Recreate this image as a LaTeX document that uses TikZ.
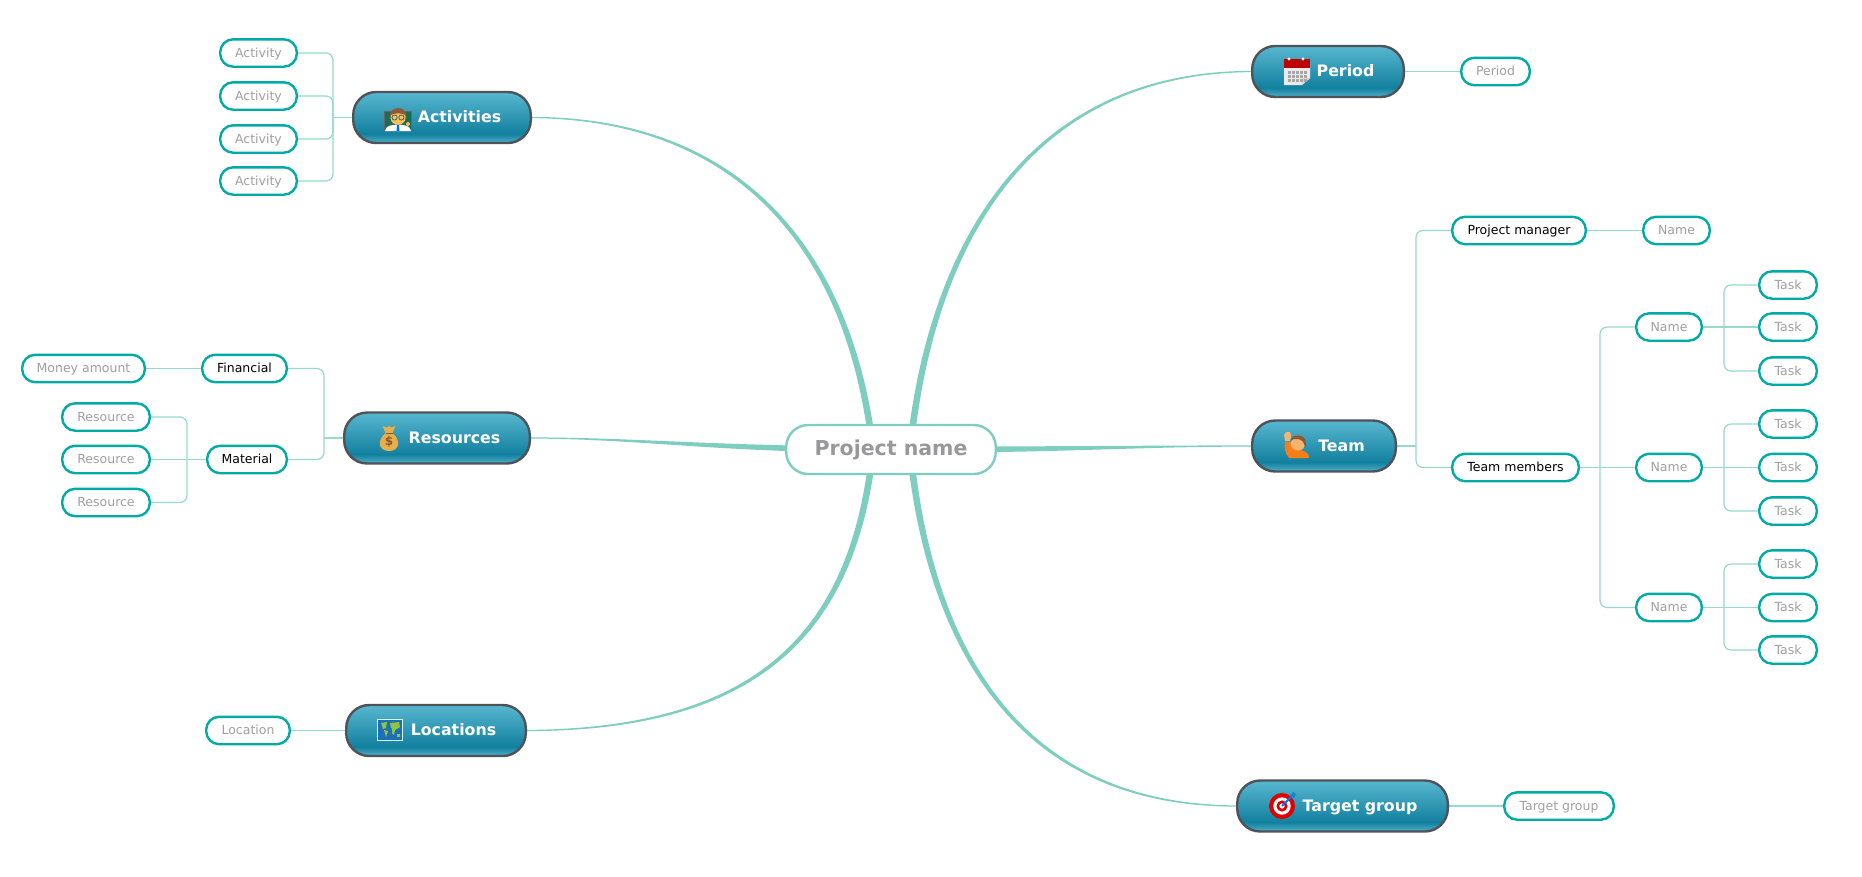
\documentclass[tikz,border=0pt]{standalone}
\usepackage{fontspec}
\setmainfont{DejaVu Sans}
\usetikzlibrary{backgrounds}
\definecolor{leafline}{HTML}{00ABA6}
\definecolor{branchc}{HTML}{7ECEC0}
\definecolor{thinc}{HTML}{96D9CD}
\definecolor{pilledge}{HTML}{4F5257}
\definecolor{leaftext}{HTML}{A0A0A2}
\definecolor{roottext}{HTML}{98989A}
\definecolor{shbot}{HTML}{50B0C8}
\definecolor{shdark}{HTML}{12809F}
\definecolor{shtop}{HTML}{58B7D0}
\definecolor{skin}{HTML}{F5C25E}
\definecolor{skintwo}{HTML}{F4B66E}
\definecolor{hair}{HTML}{8A5A3A}
\definecolor{board}{HTML}{1F6B55}
\definecolor{bag}{HTML}{E8AE4C}
\definecolor{bagdark}{HTML}{8B5A2B}
\definecolor{shirt}{HTML}{F57F17}
\definecolor{ocean}{HTML}{1F6FB5}
\definecolor{land}{HTML}{8DC63F}
\pgfdeclareverticalshading{pillshade}{100bp}{color(0bp)=(shbot); color(25bp)=(shbot); color(34bp)=(shdark); color(75bp)=(shtop); color(100bp)=(shtop)}
\tikzset{
  leaf/.style={draw=leafline,line width=2.4pt,fill=white,rounded corners=13pt,minimum height=27.4pt,inner sep=0pt,outer sep=0pt,text=leaftext,font=\fontsize{12.5}{14}\selectfont,text height=10.6pt,text depth=2pt},
  sub/.style={leaf,text=black},
  pill/.style={draw=pilledge,line width=2.4pt,rounded corners=23pt,minimum height=51pt,inner sep=0pt,outer sep=0pt,shading=pillshade,shading angle=0,text=white,font=\fontsize{15.8}{18}\bfseries\selectfont,text height=13pt,text depth=3pt},
  root/.style={draw=branchc,line width=2.4pt,fill=white,rounded corners=22pt,minimum height=49pt,inner sep=0pt,outer sep=0pt,text=roottext,font=\fontsize{20.5}{24}\bfseries\selectfont,text height=15.5pt,text depth=3.5pt},
  link/.style={draw=thinc,line width=1.2pt,rounded corners=7pt},
  branch/.style={fill=branchc,draw=none}
}
\newcommand\lf[6]{\node[#1,minimum width={(#4-#3-2.4)*1pt}] (#2) at ({(#3+#4)/2},#5) {#6};}
\newcommand\pl[6]{\node[pill,minimum width={(#3-#2-2.4)*1pt}] (#1) at ({(#2+#3)/2},{(#4+#5)/2}) {\hspace*{35pt}#6};}
% tapered branch: root, node anchor, two control points, outward signs
\newcommand\vbranch[8]{\fill[branch] ([xshift={(#7)*3.4pt}]#1) .. controls ({#3+(#7)*2.8},{#4+(#8)*0.8}) and ({#5+(#7)*0.8},{#6+(#8)*1.5}) .. ([yshift={-1*(#8)*.6pt}]#2) -- ([yshift={(#8)*.6pt}]#2) .. controls ({#5-(#7)*0.8},{#6-(#8)*1.5}) and ({#3-(#7)*2.8},{#4-(#8)*0.8}) .. ([xshift={-1*(#7)*3.4pt}]#1) -- cycle;}
\newcommand\hbranch[6]{\fill[branch] ([yshift=3.2pt]#1) .. controls (#3,{#4-3.2}) and (#5,{#6-.6}) .. ([yshift=.6pt]#2) -- ([yshift=-.6pt]#2) .. controls (#5,{#6+.6}) and (#3,{#4+3.2}) .. ([yshift=-3.2pt]#1) -- cycle;}
\begin{document}
\begin{tikzpicture}[x=1pt,y=-1pt]
\useasboundingbox (0,0) rectangle (1862,876);
% root
\node[root,minimum width=209.6pt] (proj) at (891,449.5) {Project name};
% main topics
\pl{act}{352}{532}{91}{144}{Activities}
\pl{res}{343}{531}{411.5}{464.5}{Resources}
\pl{loc}{345}{527}{703.5}{757.5}{Locations}
\pl{per}{1251}{1405}{45}{98}{Period}
\pl{team}{1251}{1397}{419}{473}{Team}
\pl{tgt}{1236}{1449}{779.5}{832.5}{Target group}
% activities
\lf{leaf}{a1}{219}{298}{53}{Activity}
\lf{leaf}{a2}{219}{298}{96}{Activity}
\lf{leaf}{a3}{219}{298}{139}{Activity}
\lf{leaf}{a4}{219}{298}{181}{Activity}
% resources
\lf{leaf}{money}{21}{146}{368.5}{Money amount}
\lf{sub}{fin}{201}{288}{368.5}{Financial}
\lf{sub}{mat}{206}{288}{459.5}{Material}
\lf{leaf}{r1}{61}{151}{417}{Resource}
\lf{leaf}{r2}{61}{151}{459.5}{Resource}
\lf{leaf}{r3}{61}{151}{502.5}{Resource}
% location, period, target
\lf{leaf}{locl}{205}{291}{730.5}{Location}
\lf{leaf}{perl}{1460}{1531}{71.5}{Period}
\lf{leaf}{tgtl}{1503}{1615}{806}{Target group}
% team
\lf{sub}{pm}{1451}{1587}{230.5}{Project manager}
\lf{leaf}{pmn}{1642}{1711}{230.5}{Name}
\lf{sub}{tm}{1451}{1580}{467.5}{Team members}
\lf{leaf}{n1}{1635}{1703}{327}{Name}
\lf{leaf}{n2}{1635}{1703}{467.5}{Name}
\lf{leaf}{n3}{1635}{1703}{607.5}{Name}
\lf{leaf}{t1}{1758}{1818}{285}{Task}
\lf{leaf}{t2}{1758}{1818}{327}{Task}
\lf{leaf}{t3}{1758}{1818}{371}{Task}
\lf{leaf}{t4}{1758}{1818}{424}{Task}
\lf{leaf}{t5}{1758}{1818}{467.5}{Task}
\lf{leaf}{t6}{1758}{1818}{511}{Task}
\lf{leaf}{t7}{1758}{1818}{564}{Task}
\lf{leaf}{t8}{1758}{1818}{607.5}{Task}
\lf{leaf}{t9}{1758}{1818}{650}{Task}
\coordinate (rootR) at (910,450);
\coordinate (rootL) at (873,450);
\coordinate (bA) at (333,117.5);
\coordinate (bR) at (324,438);
\coordinate (bM) at (187,459.5);
\coordinate (bT) at (1416,446);
\coordinate (bN) at (1600,467.5);
\coordinate (bT1) at (1724,327);
\coordinate (bT2) at (1724,467.5);
\coordinate (bT3) at (1724,607.5);
\begin{scope}[on background layer]
\fill[white] (0,0) rectangle (1862,876);
\vbranch{rootR}{per.west}{930}{250}{1025}{72}{-1}{-1}
\vbranch{rootL}{act.east}{850}{250}{740}{118}{1}{-1}
\vbranch{rootR}{tgt.west}{930}{650}{1020}{806}{-1}{1}
\vbranch{rootL}{loc.east}{853}{640}{750}{730}{1}{1}
\hbranch{proj.center}{team.west}{1060}{450}{1130}{446}
\hbranch{proj.center}{res.east}{720}{450}{640}{438}
\foreach \n in {a1,a2,a3,a4} \draw[link] (\n.east) -| (bA);
\draw[link] (act.west) -- (bA);
\draw[link] (fin.east) -| (bR);
\draw[link] (mat.east) -| (bR);
\draw[link] (res.west) -- (bR);
\draw[link] (money.east) -- (fin.west);
\draw[link] (mat.west) -- (r2.east);
\draw[link] (r1.east) -| (bM);
\draw[link] (r3.east) -| (bM);
\draw[link] (loc.west) -- (locl.east);
\draw[link] (per.east) -- (perl.west);
\draw[link] (tgt.east) -- (tgtl.west);
\draw[link] (team.east) -- (bT);
\draw[link] (pm.west) -| (bT);
\draw[link] (tm.west) -| (bT);
\draw[link] (pm.east) -- (pmn.west);
\draw[link] (tm.east) -- (n2.west);
\draw[link] (n1.west) -| (bN);
\draw[link] (n3.west) -| (bN);
\draw[link] (n1.east) -- (t2.west);
\draw[link] (n2.east) -- (t5.west);
\draw[link] (n3.east) -- (t8.west);
\draw[link] (t1.west) -| (bT1);
\draw[link] (t3.west) -| (bT1);
\draw[link] (t4.west) -| (bT2);
\draw[link] (t6.west) -| (bT2);
\draw[link] (t7.west) -| (bT3);
\draw[link] (t9.west) -| (bT3);
\end{scope}
% icon: teacher
\begin{scope}[shift={(398,119)}]
\fill[black!60] (-14,-8) rectangle (14,12);
\fill[board] (-13,-7) rectangle (13,11);
\fill[white] (-13,12) .. controls (-12,6) and (-6,6) .. (0,5.5) .. controls (6,6) and (12,6) .. (13,12) -- cycle;
\fill[blue!60!cyan] (-1,5.5) -- (1,5.5) -- (1.4,12) -- (-1.4,12) -- cycle;
\fill[skin] (-7.5,-6) -- (7.5,-6) -- (7.5,-1) .. controls (7,8) and (-7,8) .. (-7.5,-1) -- cycle;
\fill[hair] (-8,-3) .. controls (-9,-13) and (9,-14) .. (8,-3) .. controls (6,-6.5) and (-6,-6.5) .. (-8,-3) -- cycle;
\draw[black!70,line width=.7pt] (-3.4,-1.5) circle (2.6) (3.4,-1.5) circle (2.6);
\fill[skin] (10,5) circle (2);
\end{scope}
% icon: money bag
\begin{scope}[shift={(389,438)}]
\fill[bag] (-3.5,-5) .. controls (-12,2) and (-11,13) .. (0,13) .. controls (11,13) and (12,2) .. (3.5,-5) -- cycle;
\fill[bag] (-3.5,-5) -- (-6.5,-12) -- (-2,-10.5) -- (0,-12) -- (2.5,-10.5) -- (6.5,-12) -- (3.5,-5) -- cycle;
\draw[bagdark,line width=.8pt] (-3.5,-5) -- (3.5,-5);
\node[inner sep=0pt,text=bagdark,font=\fontsize{12}{12}\bfseries\selectfont] (dollar) at (0,3.5) {\$};
\end{scope}
% icon: calendar
\begin{scope}[shift={(1297,72)}]
\fill[white!92!black] (-13,-9) -- (13,-9) -- (13,6) -- (5,13) -- (-13,13) -- cycle;
\fill[red!75!black] (-13,-13) rectangle (13,-4);
\fill[white] (-8,-13) circle (1.6) (6,-13) circle (1.6);
\fill[gray!30] (13,6) -- (5,6) -- (5,13) -- cycle;
\foreach \i in {0,...,4} \foreach \j in {0,1,2} \fill[gray!70] ({-9+\i*4},{-1+\j*4}) rectangle ++(2.6,2.6);
\end{scope}
% icon: raised hand
\begin{scope}[shift={(1297,445)}]
\fill[shirt] (-12,-3) -- (-7,-3) .. controls (-6,3) and (-2,5) .. (1,5) .. controls (8,5) and (12,8) .. (12,13) -- (-8,13) .. controls (-12,8) and (-13,3) .. (-12,-3) -- cycle;
\fill[skintwo] (-12,-4) -- (-13,-10) -- (-11,-13) -- (-7,-13) -- (-6,-9) -- (-7,-4) -- cycle;
\fill[skintwo] (1,-2) circle (7.5);
\fill[hair] (-6.5,-3) .. controls (-7,-12) and (9,-12) .. (9,-2) .. controls (9,2) and (8,3) .. (7.5,3) .. controls (8,-4) and (4,-5) .. (1,-6) .. controls (-2,-6.5) and (-5,-6) .. (-6.5,-3) -- cycle;
\end{scope}
% icon: map
\begin{scope}[shift={(390,730)}]
\fill[white!85!cyan] (-13,-11) -- (13,-11) -- (13,11) -- (-13,11) -- cycle;
\fill[ocean] (-12,-10) rectangle (12,10);
\fill[land] (-9,-7) -- (-3,-8) -- (-4,-2) -- (-7,-1) -- cycle (-6,0) -- (-2,1) -- (-4,7) -- cycle (0,-7) -- (9,-8) -- (10,-3) -- (5,0) -- (1,-2) -- cycle (2,-1) -- (5,0) -- (4,5) -- (2,3) -- cycle (7,4) -- (10,4) -- (10,7) -- (7,7) -- cycle;
\end{scope}
% icon: target
\begin{scope}[shift={(1282,806)}]
\fill[red!88!black] (0,0) circle (13);
\fill[white] (0,0) circle (8.7);
\fill[red!88!black] (0,0) circle (5.6);
\fill[white] (0,0) circle (2.6);
\draw[blue!55!cyan,line width=2pt] (0,0) -- (11,-11);
\fill[cyan!70!blue] (8,-10) -- (11,-14) -- (14,-12) -- (12,-8) -- cycle;
\end{scope}
\end{tikzpicture}
\end{document}
